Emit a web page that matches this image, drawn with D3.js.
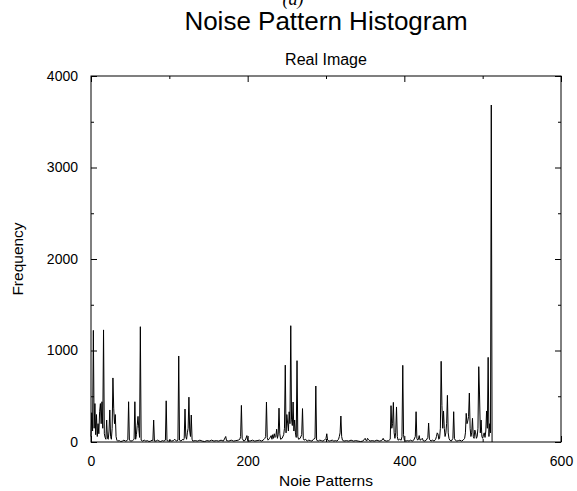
<!DOCTYPE html>
<html>
<head>
    <meta charset="utf-8">
    <style>
        body {
            margin: 0;
            background: #fff;
        }

        svg {
            font-family: "Liberation Sans", Arial, sans-serif;
        }

        .tick line {
            stroke: #000;
        }

        .domain {
            display: none;
        }

        .tick text {
            font-size: 14px;
            fill: #000;
        }

        .title {
            font-size: 26px;
        }

        .subtitle {
            font-size: 16px;
        }

        .axis-label {
            font-size: 15.5px;
        }
    </style>
</head>

<body>
    <svg width="577" height="491"></svg>
</body>

<script src="https://d3js.org/d3.v7.min.js"></script>

<script>
    // noise pattern index (x) and frequency (y)
    let patterns = [
        0, 1, 2, 3, 4, 5, 6, 7, 8, 9, 10, 11, 12, 13, 14, 15, 16, 17, 18, 19,
        20, 21, 22, 23, 24, 25, 26, 27, 28, 29, 30, 31, 32, 33, 34, 36, 38, 40, 42, 44,
        46, 47, 48, 49, 51, 53, 55, 56, 57, 58, 59, 60, 61, 62, 63, 64, 66, 68, 70, 72,
        74, 76, 78, 79, 80, 81, 83, 85, 87, 89, 91, 93, 95, 96, 97, 99, 101, 103, 105, 107,
        109, 111, 112, 113, 115, 117, 118, 119, 120, 121, 122, 123, 124, 125, 126, 127, 128, 129, 130, 133,
        136, 139, 142, 145, 148, 151, 154, 157, 160, 163, 166, 169, 172, 173, 176, 179, 182, 185, 188, 190,
        191, 192, 193, 195, 197, 199, 200, 203, 206, 209, 212, 215, 218, 221, 222, 223, 224, 225, 226, 228,
        230, 231, 232, 233, 234, 235, 236, 237, 238, 239, 240, 241, 242, 244, 246, 247, 248, 249, 250, 251,
        252, 253, 254, 255, 256, 257, 258, 259, 260, 261, 262, 263, 264, 265, 267, 269, 270, 271, 272, 274,
        276, 278, 280, 282, 284, 286, 287, 288, 290, 292, 294, 296, 298, 300, 301, 302, 304, 306, 308, 310,
        312, 314, 316, 317, 318, 319, 320, 321, 323, 326, 329, 332, 335, 338, 341, 344, 347, 350, 351, 352,
        353, 354, 356, 359, 362, 365, 368, 371, 373, 374, 377, 380, 382, 383, 384, 385, 386, 387, 388, 389,
        390, 391, 392, 394, 396, 397, 398, 399, 400, 402, 404, 406, 408, 410, 412, 414, 415, 416, 417, 418,
        419, 420, 422, 423, 424, 426, 428, 430, 431, 432, 434, 436, 438, 440, 441, 442, 443, 444, 445, 446,
        447, 448, 449, 450, 451, 452, 453, 454, 455, 456, 457, 458, 460, 462, 463, 464, 465, 467, 469, 471,
        473, 475, 477, 478, 479, 480, 481, 482, 483, 484, 485, 486, 487, 488, 489, 490, 491, 492, 493, 494,
        495, 496, 497, 498, 499, 500, 501, 502, 503, 504, 505, 506, 507, 508, 509, 510, 511, 512
    ]

    let frequency = [
        60, 320, 120, 1220, 150, 420, 80, 300, 60, 200, 90, 330, 420, 200, 440, 150, 1225, 90, 50, 30,
        240, 40, 30, 120, 350, 60, 30, 150, 700, 370, 200, 300, 60, 20, 10, 15, 5, 10, 20, 10,
        15, 30, 440, 20, 10, 15, 30, 440, 30, 80, 180, 280, 150, 50, 1260, 20, 10, 20, 10, 15,
        5, 10, 20, 15, 240, 10, 10, 20, 10, 5, 15, 10, 20, 450, 15, 10, 20, 10, 15, 30,
        10, 20, 940, 20, 10, 30, 20, 40, 360, 60, 30, 100, 150, 490, 120, 60, 295, 30, 10, 15,
        10, 20, 10, 5, 15, 10, 20, 10, 15, 10, 20, 10, 60, 15, 10, 20, 10, 15, 20, 30,
        60, 400, 40, 10, 20, 70, 15, 10, 20, 10, 15, 20, 10, 30, 40, 60, 437, 50, 20, 40,
        70, 30, 80, 40, 90, 50, 60, 140, 40, 80, 370, 90, 30, 40, 80, 150, 840, 100, 300, 207,
        120, 330, 200, 1271, 250, 180, 437, 120, 240, 100, 50, 889, 60, 30, 40, 80, 365, 40, 20, 30,
        10, 20, 15, 10, 30, 40, 612, 20, 10, 20, 15, 10, 20, 40, 90, 20, 10, 15, 20, 10,
        15, 10, 30, 60, 100, 284, 60, 20, 10, 15, 10, 20, 10, 15, 10, 5, 10, 40, 20, 10,
        40, 30, 10, 15, 10, 20, 10, 15, 40, 20, 10, 15, 30, 397, 150, 200, 433, 100, 40, 100,
        383, 60, 20, 30, 20, 60, 838, 80, 20, 10, 15, 10, 20, 10, 20, 60, 331, 40, 20, 30,
        70, 20, 30, 40, 15, 10, 20, 50, 207, 30, 10, 20, 10, 30, 60, 100, 87, 30, 40, 150,
        882, 400, 150, 339, 150, 60, 100, 200, 510, 100, 40, 20, 10, 40, 331, 40, 20, 10, 15, 20,
        10, 20, 40, 100, 313, 200, 230, 280, 535, 150, 60, 100, 259, 60, 40, 130, 100, 40, 60, 150,
        823, 514, 100, 240, 60, 40, 80, 100, 50, 120, 339, 150, 925, 60, 200, 100, 3683, 0
    ]

    let xMajorTicks = [0, 200, 400, 600]
    let xMinorTicks = [100, 300, 500]
    let yMajorTicks = [0, 1000, 2000, 3000, 4000]
    let yMinorTicks = [500, 1500, 2500, 3500]

    let data = patterns.map((p, i) => ({ x: p, y: frequency[i] }))

    let margin = { top: 76, right: 16, bottom: 49, left: 91 };
    let width = 577;
    let height = 491;

    let svg = d3.select("svg")

    let x = d3.scaleLinear()
        .domain([0, 600])
        .range([margin.left, width - margin.right])

    let y = d3.scaleLinear()
        .domain([0, 4000])
        .range([height - margin.bottom, margin.top])

    let line = d3.line()
        .x(d => x(d.x))
        .y(d => y(d.y))

    // data line
    svg.append("path")
        .datum(data)
        .attr("fill", "none")
        .attr("stroke", "#000")
        .attr("stroke-width", 1)
        .attr("d", line)

    // frame
    svg.append("rect")
        .attr("x", x(0))
        .attr("y", y(4000))
        .attr("width", x(600) - x(0))
        .attr("height", y(0) - y(4000))
        .attr("fill", "none")
        .attr("stroke", "#000")

    // bottom / top ticks (pointing inward, gnuplot style)
    svg.append("g")
        .attr("class", "x axis")
        .attr("transform", `translate(0,${y(0)})`)
        .call(d3.axisBottom(x).tickValues(xMajorTicks).tickSize(-6).tickPadding(14).tickFormat(d3.format("d")))

    svg.append("g")
        .attr("transform", `translate(0,${y(0)})`)
        .call(d3.axisBottom(x).tickValues(xMinorTicks).tickSize(-3).tickFormat(""))

    svg.append("g")
        .attr("transform", `translate(0,${y(4000)})`)
        .call(d3.axisTop(x).tickValues(xMajorTicks).tickSize(-6).tickFormat(""))

    svg.append("g")
        .attr("transform", `translate(0,${y(4000)})`)
        .call(d3.axisTop(x).tickValues(xMinorTicks).tickSize(-3).tickFormat(""))

    // left / right ticks
    svg.append("g")
        .attr("class", "y axis")
        .attr("transform", `translate(${x(0)},0)`)
        .call(d3.axisLeft(y).tickValues(yMajorTicks).tickSize(-6).tickPadding(13).tickFormat(d3.format("d")))

    svg.append("g")
        .attr("transform", `translate(${x(0)},0)`)
        .call(d3.axisLeft(y).tickValues(yMinorTicks).tickSize(-3).tickFormat(""))

    svg.append("g")
        .attr("transform", `translate(${x(600)},0)`)
        .call(d3.axisRight(y).tickValues(yMajorTicks).tickSize(-6).tickFormat(""))

    svg.append("g")
        .attr("transform", `translate(${x(600)},0)`)
        .call(d3.axisRight(y).tickValues(yMinorTicks).tickSize(-3).tickFormat(""))

    // titles ("(a)" is cut by the top edge, as in the original)
    svg.append("text")
        .attr("x", 293)
        .attr("y", 5)
        .attr("text-anchor", "middle")
        .style("font-family", "'Liberation Serif', serif")
        .style("font-style", "italic")
        .style("font-size", "18px")
        .text("(a)")

    svg.append("text")
        .attr("class", "title")
        .attr("x", (x(0) + x(600)) / 2)
        .attr("y", 30)
        .attr("text-anchor", "middle")
        .text("Noise Pattern Histogram")

    svg.append("text")
        .attr("class", "subtitle")
        .attr("x", (x(0) + x(600)) / 2)
        .attr("y", 65)
        .attr("text-anchor", "middle")
        .text("Real Image")

    svg.append("text")
        .attr("class", "axis-label")
        .attr("x", (x(0) + x(600)) / 2)
        .attr("y", 486)
        .attr("text-anchor", "middle")
        .text("Noie Patterns")

    svg.append("text")
        .attr("class", "axis-label")
        .attr("transform", `translate(23,${(y(0) + y(4000)) / 2}) rotate(-90)`)
        .attr("text-anchor", "middle")
        .text("Frequency")
</script>
</html>
